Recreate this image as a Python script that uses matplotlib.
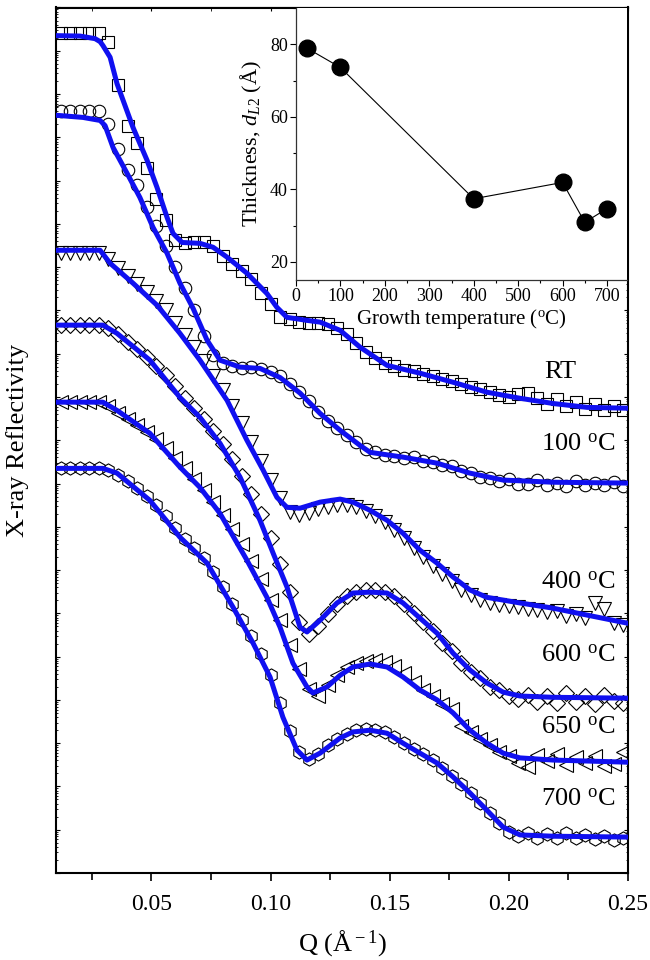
import numpy as np
import matplotlib
matplotlib.use('Agg')
import matplotlib.pyplot as plt
from matplotlib.ticker import MultipleLocator, LogLocator, NullFormatter

plt.rcParams['font.family'] = ['Liberation Serif', 'DejaVu Serif']
plt.rcParams['mathtext.fontset'] = 'custom'
plt.rcParams['mathtext.rm'] = 'Liberation Serif'
plt.rcParams['mathtext.it'] = 'Liberation Serif:italic'
plt.rcParams['mathtext.bf'] = 'Liberation Serif:bold'

# ---------------- data (log10 of offset reflectivity, arbitrary units) ----------------
q_data = [0.012, 0.016, 0.020, 0.024, 0.028, 0.032, 0.036, 0.040, 0.044, 0.048,
          0.052, 0.056, 0.060, 0.064, 0.068, 0.072, 0.076, 0.080, 0.084, 0.088,
          0.092, 0.096, 0.100, 0.104, 0.108, 0.112, 0.116, 0.120, 0.124, 0.128,
          0.132, 0.136, 0.140, 0.144, 0.148, 0.152, 0.156, 0.160, 0.164, 0.168,
          0.172, 0.176, 0.180, 0.184, 0.188, 0.192, 0.196, 0.200, 0.204, 0.208,
          0.212, 0.216, 0.220, 0.224, 0.228, 0.232, 0.236, 0.240, 0.244, 0.248]

rt_data = [19.42, 19.42, 19.42, 19.42, 19.42, 19.20, 18.20, 17.26, 16.86, 16.30,
           15.58, 15.10, 14.62, 14.55, 14.58, 14.57, 14.50, 14.25, 14.08, 13.90,
           13.72, 13.40, 13.15, 12.84, 12.80, 12.74, 12.70, 12.72, 12.68, 12.60,
           12.45, 12.25, 12.05, 11.90, 11.78, 11.72, 11.62, 11.60, 11.52, 11.48,
           11.42, 11.36, 11.30, 11.22, 11.18, 11.12, 11.05, 11.00, 11.06, 11.10,
           10.98, 10.84, 10.95, 10.80, 10.88, 10.72, 10.84, 10.70, 10.80, 10.70]

t100_data = [17.60, 17.60, 17.60, 17.60, 17.60, 17.30, 16.72, 16.25, 15.90, 15.40,
             14.95, 14.50, 14.00, 13.52, 13.00, 12.40, 11.98, 11.78, 11.72, 11.68,
             11.70, 11.64, 11.58, 11.48, 11.30, 11.12, 10.90, 10.66, 10.45, 10.28,
             10.12, 9.95, 9.80, 9.74, 9.66, 9.64, 9.60, 9.62, 9.52, 9.50,
             9.42, 9.40, 9.30, 9.24, 9.16, 9.12, 9.06, 9.10, 9.00, 8.98,
             9.08, 8.96, 9.02, 8.95, 9.05, 8.96, 9.02, 8.96, 9.03, 8.94]

t400_data = [14.33, 14.33, 14.33, 14.33, 14.33, 14.18, 13.98, 13.80, 13.62, 13.42,
             13.22, 13.00, 12.72, 12.44, 12.15, 11.82, 11.48, 11.15, 10.80, 10.40,
             9.96, 9.52, 9.08, 8.66, 8.35, 8.28, 8.32, 8.40, 8.46, 8.50,
             8.50, 8.45, 8.36, 8.24, 8.10, 7.92, 7.74, 7.50, 7.30, 7.10,
             6.92, 6.74, 6.55, 6.42, 6.32, 6.25, 6.20, 6.18, 6.14, 6.10,
             6.08, 6.02, 6.05, 5.95, 5.98, 5.90, 6.24, 6.10, 5.78, 5.72]

t600_data = [12.66, 12.66, 12.66, 12.66, 12.66, 12.60, 12.45, 12.28, 12.10, 11.92,
             11.72, 11.50, 11.25, 10.98, 10.74, 10.48, 10.22, 9.92, 9.56, 9.18,
             8.75, 8.30, 7.75, 7.15, 6.50, 5.80, 5.52, 5.70, 5.98, 6.22,
             6.40, 6.50, 6.53, 6.55, 6.50, 6.40, 6.22, 6.00, 5.80, 5.60,
             5.32, 5.12, 4.86, 4.64, 4.50, 4.30, 4.22, 4.10, 4.02, 4.12,
             3.95, 4.10, 3.92, 4.15, 3.96, 4.08, 3.90, 4.12, 3.98, 3.92]

t650_data = [10.88, 10.88, 10.88, 10.88, 10.88, 10.80, 10.62, 10.48, 10.35, 10.20,
             10.02, 9.82, 9.58, 9.35, 9.10, 8.85, 8.58, 8.28, 7.95, 7.60,
             7.20, 6.80, 6.30, 5.85, 5.28, 4.72, 4.25, 4.10, 4.35, 4.58,
             4.75, 4.86, 4.90, 4.92, 4.88, 4.78, 4.62, 4.42, 4.22, 4.08,
             3.90, 3.78, 3.40, 3.25, 3.10, 2.95, 2.80, 2.70, 2.55, 2.45,
             2.72, 2.58, 2.76, 2.50, 2.68, 2.55, 2.70, 2.48, 2.52, 2.80]

t700_data = [9.37, 9.37, 9.37, 9.37, 9.37, 9.32, 9.20, 9.05, 8.90, 8.72,
             8.50, 8.25, 7.98, 7.72, 7.50, 7.28, 6.96, 6.60, 6.22, 5.85,
             5.48, 5.06, 4.58, 3.92, 3.28, 2.80, 2.64, 2.74, 2.95, 3.10,
             3.22, 3.30, 3.33, 3.30, 3.25, 3.15, 3.00, 2.86, 2.74, 2.60,
             2.42, 2.25, 2.05, 1.85, 1.62, 1.38, 1.15, 0.95, 0.86, 0.92,
             0.80, 0.90, 0.82, 0.92, 0.80, 0.88, 0.78, 0.86, 0.76, 0.82]

# fitted curves
q_fit_rt = [0.0100, 0.0201, 0.0264, 0.0285, 0.0297, 0.0327, 0.0356, 0.0423, 0.0482, 0.0524,
            0.0566, 0.0591, 0.0629, 0.0704, 0.0759, 0.0818, 0.0901, 0.0985, 0.1027, 0.1069,
            0.1153, 0.1208, 0.1292, 0.1376, 0.1489, 0.1627, 0.1766, 0.1908, 0.2047, 0.2185,
            0.2328, 0.2500]
rt_fit = [19.35, 19.34, 19.28, 19.21, 19.12, 18.85, 18.24, 17.23, 16.47, 15.84,
          15.15, 14.78, 14.57, 14.55, 14.46, 14.23, 13.86, 13.39, 13.07, 12.84,
          12.77, 12.73, 12.54, 12.15, 11.73, 11.55, 11.34, 11.11, 10.97, 10.85,
          10.76, 10.74]

q_fit_100 = [0.0100, 0.0213, 0.0285, 0.0306, 0.0339, 0.0398, 0.0452, 0.0507, 0.0566, 0.0620,
             0.0675, 0.0734, 0.0788, 0.0872, 0.0956, 0.1040, 0.1124, 0.1208, 0.1292, 0.1376,
             0.1418, 0.1556, 0.1699, 0.1837, 0.1976, 0.2185, 0.2500]
t100_fit = [17.51, 17.46, 17.39, 17.27, 16.77, 16.17, 15.61, 14.92, 14.32, 13.63,
            13.05, 12.31, 11.85, 11.69, 11.66, 11.45, 11.09, 10.62, 10.23, 9.88,
            9.72, 9.61, 9.47, 9.24, 9.08, 9.03, 9.01]

q_fit_400 = [0.0100, 0.0285, 0.0327, 0.0423, 0.0524, 0.0620, 0.0704, 0.0818, 0.0901, 0.0969,
             0.1027, 0.1069, 0.1124, 0.1208, 0.1292, 0.1346, 0.1418, 0.1489, 0.1556, 0.1627,
             0.1699, 0.1766, 0.1837, 0.1908, 0.2047, 0.2185, 0.2328, 0.2500]
t400_fit = [14.39, 14.39, 14.09, 13.63, 13.12, 12.47, 11.85, 10.92, 10.00, 9.31,
            8.68, 8.45, 8.43, 8.57, 8.64, 8.57, 8.38, 8.15, 7.85, 7.46,
            7.16, 6.84, 6.54, 6.37, 6.24, 6.12, 5.96, 5.77]

q_fit_600 = [0.0100, 0.0297, 0.0356, 0.0494, 0.0620, 0.0704, 0.0788, 0.0872, 0.0956, 0.1011,
             0.1069, 0.1124, 0.1153, 0.1208, 0.1279, 0.1346, 0.1418, 0.1489, 0.1556, 0.1627,
             0.1699, 0.1766, 0.1837, 0.1908, 0.1976, 0.2047, 0.2185, 0.2500]
t600_fit = [12.66, 12.66, 12.47, 11.85, 10.99, 10.53, 9.93, 9.15, 8.15, 7.39,
            6.61, 5.68, 5.57, 5.84, 6.24, 6.47, 6.49, 6.47, 6.24, 5.89,
            5.54, 5.08, 4.69, 4.39, 4.18, 4.09, 4.06, 4.04]

q_fit_650 = [0.0100, 0.0297, 0.0356, 0.0494, 0.0620, 0.0704, 0.0788, 0.0901, 0.0985, 0.1040,
             0.1094, 0.1153, 0.1178, 0.1237, 0.1292, 0.1346, 0.1418, 0.1489, 0.1556, 0.1627,
             0.1699, 0.1766, 0.1837, 0.1908, 0.1976, 0.2047, 0.2185, 0.2500]
t650_fit = [10.88, 10.88, 10.69, 10.16, 9.38, 8.91, 8.31, 7.23, 6.37, 5.68,
            4.85, 4.30, 4.16, 4.30, 4.57, 4.76, 4.83, 4.76, 4.53, 4.23,
            4.00, 3.70, 3.30, 3.00, 2.77, 2.66, 2.61, 2.56]

q_fit_700 = [0.0100, 0.0297, 0.0356, 0.0494, 0.0620, 0.0734, 0.0843, 0.0927, 0.0998, 0.1052,
             0.1111, 0.1153, 0.1208, 0.1292, 0.1346, 0.1418, 0.1489, 0.1556, 0.1627, 0.1699,
             0.1766, 0.1837, 0.1908, 0.1976, 0.2047, 0.2185, 0.2500]
t700_fit = [9.35, 9.35, 9.24, 8.61, 7.76, 7.16, 6.14, 5.31, 4.53, 3.60,
            2.84, 2.61, 2.77, 3.12, 3.26, 3.30, 3.23, 3.00, 2.77, 2.54,
            2.22, 1.85, 1.45, 1.06, 0.88, 0.85, 0.83]

sample_labels = ['RT', '100 $^{\\rm o}$C', '400 $^{\\rm o}$C', '600 $^{\\rm o}$C',
                 '650 $^{\\rm o}$C', '700 $^{\\rm o}$C']

# inset data
growth_temp = [25, 100, 400, 600, 650, 700]
thickness = [78.9, 73.6, 37.4, 41.9, 30.9, 34.7]

# ---------------- plotting ----------------
fig = plt.figure(figsize=(6.5, 9.6), dpi=100)
ax = fig.add_axes([56/650, 1-873/960, (628-56)/650, (873-7.5)/960])

series = [
    (rt_data, q_fit_rt, rt_fit, 's', 8.0),
    (t100_data, q_fit_100, t100_fit, 'o', 9.0),
    (t400_data, q_fit_400, t400_fit, 'v', 10.0),
    (t600_data, q_fit_600, t600_fit, 'D', 8.0),
    (t650_data, q_fit_650, t650_fit, '<', 10.0),
    (t700_data, q_fit_700, t700_fit, 'h', 9.5),
]
for data, qf, fit, mk, ms in series:
    ax.plot(q_data, np.power(10.0, data), linestyle='none', marker=mk, ms=ms,
            mfc='none', mec='black', mew=0.8, zorder=2)
    ax.plot(qf, np.power(10.0, fit), color='#1010f0', lw=3.6, zorder=3,
            solid_joinstyle='round', solid_capstyle='round')

label_pos = [(0.2215, 11.57), (0.2290, 9.91), (0.2290, 6.70), (0.2290, 5.03),
             (0.2290, 3.37), (0.2290, 1.69)]
for lab, (lx, ly) in zip(sample_labels, label_pos):
    ax.text(lx, 10**ly, lab, fontsize=19, ha='center', va='center', zorder=5)

ax.set_yscale('log')
ax.set_xlim(0.01, 0.25)
ax.set_ylim(1e0, 1e20)
ax.xaxis.set_major_locator(MultipleLocator(0.05))
ax.xaxis.set_minor_locator(MultipleLocator(0.025))
ax.xaxis.set_major_formatter(matplotlib.ticker.FuncFormatter(lambda v, p: f'{v:.2f}'))
ax.yaxis.set_major_locator(LogLocator(base=10, numticks=50))
ax.yaxis.set_minor_locator(LogLocator(base=10, subs=np.arange(2, 10), numticks=500))
ax.yaxis.set_major_formatter(NullFormatter())
ax.yaxis.set_minor_formatter(NullFormatter())
ax.tick_params(axis='x', which='major', direction='out', length=6, width=1.2,
               labelsize=17, pad=9, top=False)
ax.tick_params(axis='x', which='minor', direction='out', length=5, width=1.2, top=False)
ax.tick_params(axis='y', which='major', direction='in', length=3, width=0.8,
               left=True, right=True)
ax.tick_params(axis='y', which='minor', direction='in', length=1.5, width=0.6,
               left=True, right=True)
for s in ax.spines.values():
    s.set_linewidth(1.5)
ax.set_xlabel('Q (Å$^{\\rm -1}$)', fontsize=19, labelpad=10)
ax.set_ylabel('X-ray Reflectivity', fontsize=19, labelpad=16)

# secondary top ticks (inward)
axt = ax.secondary_xaxis('top')
axt.xaxis.set_major_locator(MultipleLocator(0.05))
axt.xaxis.set_minor_locator(MultipleLocator(0.025))
axt.tick_params(which='both', direction='in', length=3, labeltop=False)
axt.xaxis.set_major_formatter(NullFormatter())

# inset
axi = fig.add_axes([296/650, 1-280/960, (627-296)/650, (280-8)/960])
axi.plot(growth_temp, thickness, color='black', lw=0.8, marker='o', ms=12,
         mfc='black', mec='black')
axi.set_xlim(0, 745)
axi.set_ylim(15, 90)
axi.xaxis.set_major_locator(MultipleLocator(100))
axi.xaxis.set_minor_locator(MultipleLocator(50))
axi.yaxis.set_major_locator(MultipleLocator(20))
axi.yaxis.set_minor_locator(MultipleLocator(10))
axi.tick_params(which='major', direction='out', length=4, width=0.8, labelsize=13, pad=2)
axi.tick_params(which='minor', direction='out', length=2.5, width=0.8)
axi.spines['top'].set_visible(False)
axi.spines['right'].set_visible(False)
for s in ['left', 'bottom']:
    axi.spines[s].set_linewidth(0.9)
    axi.spines[s].set_color('#333333')
axi.set_xlabel('Growth temperature ($^{\\rm o}$C)', fontsize=15, labelpad=1)
axi.set_ylabel('Thickness, $d_{L2}$ (Å)', fontsize=16, labelpad=4)

fig.savefig('out.png', dpi=100)
